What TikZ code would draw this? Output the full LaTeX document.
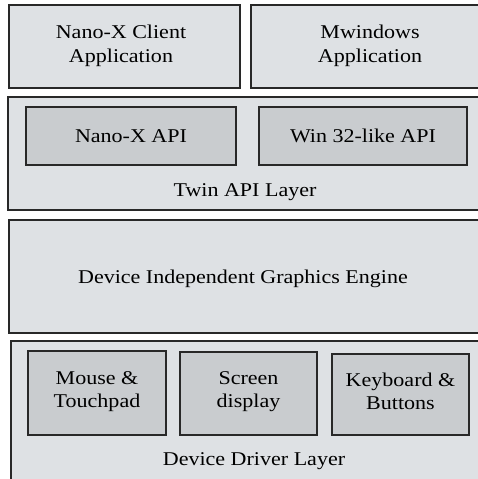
\documentclass[tikz,border=0pt]{standalone}
\usepackage{fontspec}
\setmainfont[FakeStretch=1.13]{Liberation Serif}
\definecolor{outerfill}{RGB}{222,225,228}
\definecolor{innerfill}{RGB}{201,204,207}
\definecolor{edge}{RGB}{40,40,40}
\begin{document}
\begin{tikzpicture}[x=1pt,y=-1pt,
  outerbox/.style={draw=edge,line width=1.1pt,fill=outerfill,rectangle,inner sep=0pt},
  innerbox/.style={draw=edge,line width=1.1pt,fill=innerfill,rectangle,inner sep=0pt,align=center,font=\fontsize{19.5}{23.5}\selectfont},
  lbl/.style={align=center,font=\fontsize{19.5}{23.5}\selectfont,inner sep=0pt}]
\useasboundingbox (0,0) rectangle (478,479);
\clip (0,0) rectangle (478,479);
% top applications
\node[outerbox,minimum width=231pt,minimum height=83pt] (app1) at (124.5,46.5) {};
\node[lbl] (app1t) at (121,46) {Nano-X Client\\Application};
\node[outerbox,minimum width=240pt,minimum height=83pt] (app2) at (371,46.5) {};
\node[lbl] (app2t) at (370,46) {Mwindows\\Application};
% twin API layer
\node[outerbox,minimum width=482pt,minimum height=113pt] (twin) at (249,153.5) {};
\node[innerbox,minimum width=210pt,minimum height=58pt] (nanoapi) at (131,136) {Nano-X API};
\node[innerbox,minimum width=208pt,minimum height=58pt] (winapi) at (363,136) {Win 32-like API};
\node[lbl] (twint) at (245,192) {Twin API Layer};
% device independent engine
\node[outerbox,minimum width=481pt,minimum height=113pt] (engine) at (249.5,276.5) {};
\node[lbl] (enginet) at (243,279) {Device Independent Graphics Engine};
% device driver layer
\node[outerbox,minimum width=479pt,minimum height=150pt] (driver) at (250.5,416) {};
\node[innerbox,minimum width=138pt,minimum height=84pt] (mouse) at (97,393) {};
\node[innerbox,minimum width=137pt,minimum height=83pt] (screen) at (248.5,393.5) {};
\node[innerbox,minimum width=137pt,minimum height=81pt] (keyb) at (400.5,394.5) {};
\node[lbl] (mouset) at (97,391.5) {Mouse \&\\Touchpad};
\node[lbl] (screent) at (248.5,391.5) {Screen\\display};
\node[lbl] (keybt) at (400.5,391.5) {Keyboard \&\\Buttons};
\node[lbl] (drivert) at (254,461) {Device Driver Layer};
\end{tikzpicture}
\end{document}
